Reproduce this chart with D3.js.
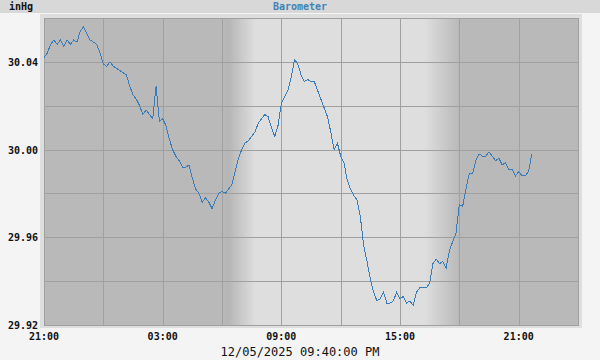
<!DOCTYPE html>
<html>
<head>
<meta charset="utf-8">
<script src="https://cdn.jsdelivr.net/npm/d3@7"></script>
<style>
  body { margin: 0; background: #f4f4f4; }
  svg { display: block; }
  text { font-family: "DejaVu Sans Mono", monospace; }
</style>
</head>
<body>
<div class="barometer"></div>
<script>
// readings every 10 minutes from 21:00 on 12/04 to 21:40 on 12/05
const startTime = new Date(2025, 11, 4, 21, 0);
const stepMinutes = 10;
const pressure = [
	30.042, 30.044, 30.048, 30.050, 30.048, 30.050, 30.047, 30.050, 30.048, 30.050,
	30.049, 30.054, 30.056, 30.053, 30.050, 30.049, 30.048, 30.044, 30.039, 30.038,
	30.040, 30.038, 30.037, 30.036, 30.035, 30.034, 30.029, 30.025, 30.023, 30.020,
	30.016, 30.018, 30.016, 30.014, 30.029, 30.013, 30.014, 30.011, 30.005, 30.000,
	29.997, 29.995, 29.992, 29.992, 29.993, 29.987, 29.982, 29.980, 29.976, 29.978,
	29.976, 29.973, 29.977, 29.980, 29.981, 29.980, 29.982, 29.984, 29.990, 29.996,
	30.000, 30.003, 30.004, 30.006, 30.008, 30.012, 30.014, 30.016, 30.015, 30.010,
	30.006, 30.011, 30.021, 30.024, 30.027, 30.033, 30.041, 30.039, 30.034, 30.031,
	30.032, 30.031, 30.031, 30.027, 30.023, 30.019, 30.015, 30.008, 30.000, 30.003,
	29.997, 29.994, 29.986, 29.982, 29.979, 29.977, 29.969, 29.956, 29.949, 29.941,
	29.935, 29.931, 29.932, 29.935, 29.930, 29.930, 29.931, 29.935, 29.932, 29.933,
	29.930, 29.931, 29.929, 29.935, 29.937, 29.937, 29.937, 29.939, 29.948, 29.950,
	29.948, 29.949, 29.946, 29.954, 29.958, 29.962, 29.975, 29.974, 29.982, 29.989,
	29.989, 29.995, 29.998, 29.997, 29.997, 29.999, 29.997, 29.995, 29.996, 29.993,
	29.994, 29.991, 29.991, 29.988, 29.990, 29.988, 29.988, 29.990, 29.998
];

const yLabels = [29.92, 29.96, 30.00, 30.04];
const yGrid = [29.92, 29.94, 29.96, 29.98, 30.00, 30.02, 30.04, 30.06];
const xLabels = ["21:00", "03:00", "09:00", "15:00", "21:00"];

// twilight: [start, end] of each fade
const sunrise = [new Date(2025, 11, 5, 6, 0), new Date(2025, 11, 5, 7, 40)];
const sunset = [new Date(2025, 11, 5, 16, 15), new Date(2025, 11, 5, 18, 0)];

const title = "Barometer";
const unitLabel = "inHg";
const stamp = "12/05/2025 09:40:00 PM";

const W = 600, H = 360;
const plot = { left: 44, right: 578, top: 18, bottom: 325 };
const nightColor = "#b9b9b9";
const dayColor = "#dedede";
const lineColor = "#3a7cb8";

const data = pressure.map((v, i) => ({
	time: d3.timeMinute.offset(startTime, i * stepMinutes),
	value: v
}));

const svg = d3.select(".barometer")
	.append("svg")
	.attr("width", W)
	.attr("height", H);

// scales
const endTime = new Date(2025, 11, 6, 0, 0);
const x = d3.scaleTime().domain([startTime, endTime]).range([plot.left, plot.right]);
const y = d3.scaleLinear().domain([29.92, 30.06]).range([plot.bottom, plot.top]);

// background pieces
svg.append("rect").attr("width", W).attr("height", H).attr("fill", "#f4f4f4");
svg.append("rect").attr("width", W).attr("height", 13).attr("fill", "#d8d8d8");
svg.append("rect")
	.attr("x", 40).attr("y", 14)
	.attr("width", 542).attr("height", 314)
	.attr("fill", "#dedede");

// day / night shading
const defs = svg.append("defs");
const shade = defs.append("linearGradient")
	.attr("id", "daynight")
	.attr("gradientUnits", "userSpaceOnUse")
	.attr("x1", plot.left).attr("x2", plot.right)
	.attr("y1", 0).attr("y2", 0);

const frac = (t) => (x(t) - plot.left) / (plot.right - plot.left);
const stops = [
	[0, nightColor],
	[frac(sunrise[0]), nightColor],
	[frac(d3.timeMinute.offset(sunrise[0], 20)), "#b6b6b6"],
	[frac(sunrise[1]), dayColor],
	[frac(sunset[0]), dayColor],
	[frac(sunset[1]), nightColor],
	[1, nightColor]
];
shade.selectAll("stop")
	.data(stops).enter()
	.append("stop")
	.attr("offset", (d) => d[0])
	.attr("stop-color", (d) => d[1]);

svg.append("rect")
	.attr("x", plot.left).attr("y", plot.top)
	.attr("width", plot.right - plot.left)
	.attr("height", plot.bottom - plot.top)
	.attr("fill", "url(#daynight)");

// grid
const grid = svg.append("g").attr("class", "grid")
	.attr("stroke", "#a0a0a0")
	.attr("shape-rendering", "crispEdges");

grid.selectAll(".h")
	.data(yGrid).enter()
	.append("line")
	.attr("x1", plot.left).attr("x2", plot.right)
	.attr("y1", (d) => Math.round(y(d)) + 0.5)
	.attr("y2", (d) => Math.round(y(d)) + 0.5);

const xGrid = d3.timeHour.range(startTime, d3.timeMinute.offset(endTime, 1), 3);
grid.selectAll(".v")
	.data(xGrid).enter()
	.append("line")
	.attr("x1", (d) => Math.round(x(d)) + 0.5)
	.attr("x2", (d) => Math.round(x(d)) + 0.5)
	.attr("y1", plot.top).attr("y2", plot.bottom);

svg.append("rect")
	.attr("x", plot.left + 0.5).attr("y", plot.top + 0.5)
	.attr("width", plot.right - plot.left)
	.attr("height", plot.bottom - plot.top)
	.attr("fill", "none")
	.attr("stroke", "#a0a0a0");

// the line
svg.append("path")
	.datum(data)
	.attr("fill", "none")
	.attr("stroke", lineColor)
	.attr("stroke-width", 1)
	.attr("shape-rendering", "crispEdges")
	.attr("d", d3.line()
		.x((d) => x(d.time))
		.y((d) => y(d.value)));

// labels
svg.selectAll(".ylab")
	.data(yLabels).enter()
	.append("text")
	.attr("class", "ylab")
	.attr("x", 38)
	.attr("y", (d) => y(d) + 4)
	.attr("text-anchor", "end")
	.attr("font-size", 10)
	.attr("font-weight", "bold")
	.attr("fill", "#111")
	.text((d) => d.toFixed(2));

const xTicks = d3.timeHour.range(startTime, d3.timeMinute.offset(endTime, -1), 6);
svg.selectAll(".xlab")
	.data(xTicks).enter()
	.append("text")
	.attr("class", "xlab")
	.attr("x", (d) => x(d))
	.attr("y", 340)
	.attr("text-anchor", "middle")
	.attr("font-size", 10)
	.attr("font-weight", "bold")
	.attr("fill", "#111")
	.text((d, i) => xLabels[i]);

svg.append("text")
	.attr("x", 9).attr("y", 10)
	.attr("font-size", 10)
	.attr("font-weight", "bold")
	.attr("fill", "#111")
	.text(unitLabel);

svg.append("text")
	.attr("x", 300).attr("y", 10)
	.attr("text-anchor", "middle")
	.attr("font-size", 10)
	.attr("font-weight", "bold")
	.attr("fill", "#4282b4")
	.text(title);

svg.append("text")
	.attr("x", 300).attr("y", 356)
	.attr("text-anchor", "middle")
	.attr("font-size", 12)
	.attr("fill", "#111")
	.text(stamp);
</script>
</body>
</html>
